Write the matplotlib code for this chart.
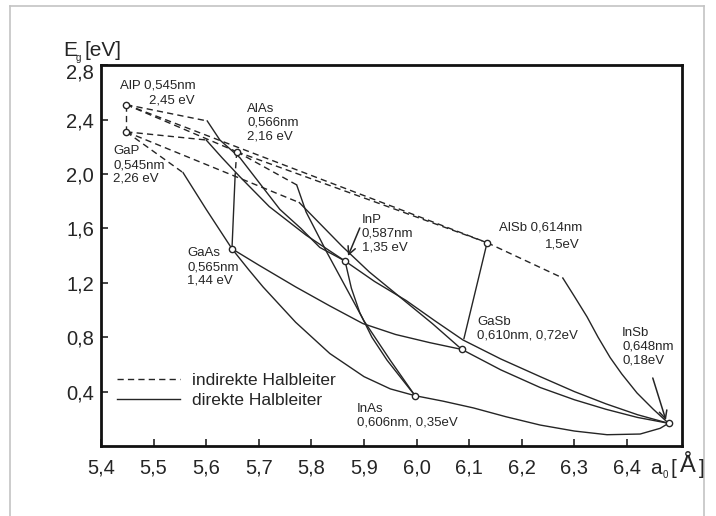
import matplotlib
matplotlib.use("Agg")
import matplotlib.pyplot as plt
import matplotlib.transforms as mtransforms
from matplotlib.lines import Line2D

plt.rcParams['font.family'] = ['Liberation Sans', 'DejaVu Sans']

# --- binaries as they sit in the drawing (a0 in Angstrom, Eg in eV) ---
names = ["AlP", "GaP", "AlAs", "GaAs", "InP", "AlSb", "GaSb", "InAs", "InSb"]
a0 = [5.448, 5.448, 5.658, 5.649, 5.864, 6.134, 6.086, 5.997, 6.479]
eg = [2.51, 2.31, 2.164, 1.45, 1.36, 1.495, 0.71, 0.37, 0.167]

# --- indirect parts of the ternaries (dashed) ---
indirect = [
    [(5.448, 2.51), (5.448, 2.31)],                 # AlP-GaP
    [(5.448, 2.51), (5.602, 2.39)],                 # AlP-InP
    [(5.448, 2.31), (5.600, 2.25)],                 # GaP-InP
    [(5.448, 2.31), (5.556, 2.01)],                 # GaP-GaAs
    [(5.448, 2.51), (5.658, 2.164)],                # AlP-AlAs
    [(5.448, 2.51), (6.134, 1.495)],                # AlP-AlSb
    [(5.658, 2.164), (6.134, 1.495)],               # AlAs-AlSb
    [(5.658, 2.164), (5.655, 1.99)],                # AlAs-GaAs
    [(5.658, 2.164), (5.772, 1.92)],                # AlAs-InAs
    [(5.448, 2.31), (5.777, 1.79)],                 # GaP-GaSb
    [(6.134, 1.495), (6.278, 1.235)],               # AlSb-InSb
]

# --- direct parts (solid) ---
direct = [
    [(5.602, 2.39), (5.626, 2.25), (5.664, 2.12), (5.702, 1.93), (5.740, 1.74), (5.78, 1.60),
     (5.816, 1.46), (5.864, 1.36)],                                                        # AlP-InP
    [(5.600, 2.25), (5.630, 2.12), (5.664, 1.98), (5.72, 1.76), (5.79, 1.55), (5.864, 1.36)],  # GaP-InP
    [(5.556, 2.01), (5.60, 1.74), (5.649, 1.45)],                                          # GaP-GaAs
    [(5.655, 1.99), (5.649, 1.45)],                                                        # AlAs-GaAs
    [(5.772, 1.92), (5.79, 1.72), (5.83, 1.42), (5.90, 0.92), (5.95, 0.63), (5.997, 0.37)],  # AlAs-InAs
    [(5.777, 1.79), (5.858, 1.47), (5.91, 1.28), (5.97, 1.09), (6.03, 0.90), (6.086, 0.71)],  # GaP-GaSb
    [(5.649, 1.45), (5.68, 1.30), (5.708, 1.17), (5.77, 0.91), (5.835, 0.68), (5.90, 0.51),
     (5.95, 0.42), (5.997, 0.37)],                                                         # GaAs-InAs
    [(5.649, 1.45), (5.70, 1.33), (5.770, 1.17), (5.835, 1.03), (5.898, 0.90), (5.96, 0.82),
     (6.025, 0.76), (6.086, 0.71)],                                                        # GaAs-GaSb
    [(5.864, 1.36), (5.876, 1.16), (5.892, 0.98), (5.915, 0.80), (5.944, 0.63), (5.997, 0.37)],  # InP-InAs
    [(5.864, 1.36), (5.92, 1.21), (5.98, 1.07), (6.035, 0.92), (6.088, 0.78), (6.16, 0.64),
     (6.235, 0.51), (6.30, 0.40), (6.36, 0.31), (6.42, 0.23), (6.479, 0.167)],             # InP-InSb
    [(6.086, 0.71), (6.16, 0.56), (6.235, 0.43), (6.30, 0.34), (6.36, 0.27), (6.42, 0.21),
     (6.479, 0.167)],                                                                      # GaSb-InSb
    [(6.134, 1.495), (6.090, 0.79)],                                                       # AlSb-GaSb
    [(6.278, 1.235), (6.30, 1.10), (6.324, 0.95), (6.345, 0.80), (6.368, 0.65), (6.39, 0.53),
     (6.419, 0.39), (6.45, 0.27), (6.479, 0.167)],                                         # AlSb-InSb
    [(5.997, 0.37), (6.05, 0.33), (6.108, 0.28), (6.17, 0.215), (6.235, 0.154), (6.30, 0.11),
     (6.362, 0.083), (6.425, 0.088), (6.463, 0.13), (6.479, 0.167)],                       # InAs-InSb
]

xticks = [5.4, 5.5, 5.6, 5.7, 5.8, 5.9, 6.0, 6.1, 6.2, 6.3, 6.4]
yticks = [0.4, 0.8, 1.2, 1.6, 2.0, 2.4, 2.8]

ink = "#252525"

fig = plt.figure(figsize=(7.16, 5.16), dpi=100)
ax = fig.add_axes([101 / 716, 1 - 446 / 516, 581 / 716, 381 / 516])

for k, seg in enumerate(indirect):
    ax.plot([p[0] for p in seg], [p[1] for p in seg], color=ink, lw=1.0,
            linestyle=(0, (4.5, 3)), label="indirekte Halbleiter" if k == 0 else None)
for k, seg in enumerate(direct):
    ax.plot([p[0] for p in seg], [p[1] for p in seg], color=ink, lw=1.0,
            label="direkte Halbleiter" if k == 0 else None)

ax.plot(a0, eg, linestyle="none", marker="o", ms=4.5, mfc="white", mec=ink, mew=1.0, zorder=5)

fs = 9.5
ax.text(5.436, 2.654, "AlP 0,545nm", fontsize=fs, va="center", color=ink)
ax.text(5.491, 2.544, "2,45 eV", fontsize=fs, va="center", color=ink)
ax.text(5.678, 2.375, "AlAs\n0,566nm\n2,16 eV", fontsize=fs, va="center", color=ink)
ax.text(5.423, 2.066, "GaP\n0,545nm\n2,26 eV", fontsize=fs, va="center", color=ink)
ax.text(5.5635, 1.316, "GaAs\n0,565nm\n1,44 eV", fontsize=fs, va="center", color=ink)
ax.text(5.896, 1.559, "InP\n0,587nm\n1,35 eV", fontsize=fs, va="center", color=ink)
ax.text(6.157, 1.61, "AlSb 0,614nm", fontsize=fs, va="center", color=ink)
ax.text(6.311, 1.485, "1,5eV", fontsize=fs, va="center", ha="right", color=ink)
ax.text(6.115, 0.864, "GaSb\n0,610nm, 0,72eV", fontsize=fs, va="center", color=ink)
ax.text(6.3905, 0.728, "InSb\n0,648nm\n0,18eV", fontsize=fs, va="center", color=ink)
ax.text(5.887, 0.22, "InAs\n0,606nm, 0,35eV", fontsize=fs, va="center", color=ink)

arrow = dict(arrowstyle="->", color=ink, lw=1.1, mutation_scale=14, shrinkA=0, shrinkB=0)
ax.annotate("", xy=(5.8696, 1.397), xytext=(5.892, 1.603), arrowprops=arrow)
ax.annotate("", xy=(6.474, 0.19), xytext=(6.449, 0.50), arrowprops=arrow)

ax.set_xlim(5.4, 5.4 + 581 / 526)
ax.set_ylim(0, 381 / 136)
ax.set_xticks(xticks)
ax.set_xticklabels([f"{v:.1f}".replace(".", ",") for v in xticks])
ax.set_yticks(yticks)
ax.set_yticklabels([f"{v:.1f}".replace(".", ",") for v in yticks])
ax.tick_params(axis="both", direction="in", length=5, width=1.2, labelsize=14.5, colors=ink)
ax.tick_params(axis="x", pad=9)
ax.tick_params(axis="y", pad=5)
for s in ax.spines.values():
    s.set_linewidth(2.0)
    s.set_color("#111111")

# the top label sits a little below the frame in the original
top_lab = ax.get_yticklabels()[-1]
top_lab.set_transform(top_lab.get_transform() + mtransforms.ScaledTranslation(0, -6 / 100, fig.dpi_scale_trans))

ax.legend(loc="upper left", bbox_to_anchor=(16 / 581, 73 / 381), frameon=False,
          fontsize=12.5, handlelength=3.6, handletextpad=0.7, labelspacing=0.28,
          borderpad=0, borderaxespad=0, labelcolor=ink)

# axis titles
fig.text(63 / 716, 1 - 50 / 516, "E", fontsize=15, va="center", color=ink)
fig.text(76 / 716, 1 - 58 / 516, "g", fontsize=7, va="center", color=ink)
fig.text(84 / 716, 1 - 50 / 516, "[eV]", fontsize=15, va="center", color=ink)

fig.text(650 / 716, 1 - 469 / 516, "a", fontsize=15, va="center", color=ink)
fig.text(663 / 716, 1 - 475 / 516, "0", fontsize=7, va="center", color=ink)
fig.text(671 / 716, 1 - 469 / 516, "[", fontsize=15, va="center", color=ink)
fig.text(680 / 716, 1 - 466 / 516, "Å", fontsize=17, va="center", color=ink)
fig.text(699 / 716, 1 - 469 / 516, "]", fontsize=15, va="center", color=ink)

# light frame around the scanned page
frame = dict(color="#c4c4c4", lw=1.2, transform=fig.transFigure)
fig.add_artist(Line2D([10 / 716, 10 / 716], [0, 1 - 6 / 516], **frame))
fig.add_artist(Line2D([10 / 716, 704 / 716], [1 - 6 / 516, 1 - 6 / 516], **frame))
fig.add_artist(Line2D([704 / 716, 704 / 716], [0, 1 - 6 / 516], **frame))

fig.savefig("out.png", dpi=100, facecolor="white")
